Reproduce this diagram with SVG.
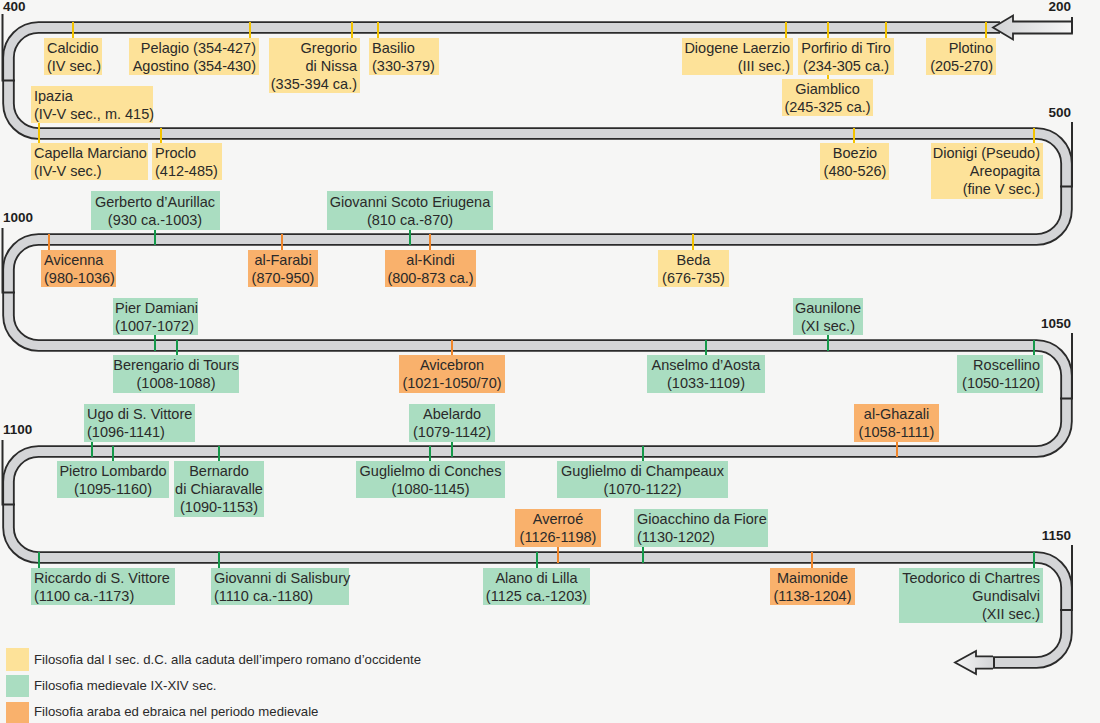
<svg xmlns="http://www.w3.org/2000/svg" width="1100" height="723" viewBox="0 0 1100 723">
<defs>
<style>
.t{font-family:"Liberation Sans",Arial,sans-serif;font-size:14.5px;fill:#2a2a2a}
.yr{font-family:"Liberation Sans",Arial,sans-serif;font-size:13.5px;font-weight:bold;fill:#1e1e1e}
.lg{font-family:"Liberation Sans",Arial,sans-serif;font-size:13.2px;fill:#2a2a2a}
.m{text-anchor:middle}.e{text-anchor:end}
.y{fill:#fde299}.g{fill:#aaddc1}.o{fill:#f9b16c}
.ty{stroke:#f3c300;stroke-width:2}.tg{stroke:#14994a;stroke-width:2}.to{stroke:#f0862a;stroke-width:2}
.mk{stroke:#2b2b2b;stroke-width:2;fill:none}
</style>
<linearGradient id="ga1" x1="993" y1="0" x2="1072" y2="0" gradientUnits="userSpaceOnUse"><stop offset="0" stop-color="#d2d3d5"/><stop offset="1" stop-color="#f6f6f6"/></linearGradient>
<linearGradient id="ga2" x1="955" y1="0" x2="992" y2="0" gradientUnits="userSpaceOnUse"><stop offset="0" stop-color="#f6f6f6"/><stop offset="1" stop-color="#d4d5d7"/></linearGradient>
</defs>
<rect width="1100" height="723" fill="#f6f6f5"/>
<g id="track">
<path d="M 1000 27.5 H 38.5 A 30 30 0 0 0 8.5 57.5 V 103.5 A 30 30 0 0 0 38.5 133.5 H 1036.5 A 30 30 0 0 1 1066.5 163.5 V 209.5 A 30 30 0 0 1 1036.5 239.5 H 38.5 A 30 30 0 0 0 8.5 269.5 V 315.5 A 30 30 0 0 0 38.5 345.5 H 1036.5 A 30 30 0 0 1 1066.5 375.5 V 421.5 A 30 30 0 0 1 1036.5 451.5 H 38.5 A 30 30 0 0 0 8.5 481.5 V 527.5 A 30 30 0 0 0 38.5 557.5 H 1036.5 A 30 30 0 0 1 1066.5 587.5 V 632.5 A 30 30 0 0 1 1036.5 662.5 H 990" fill="none" stroke="#2b2b2b" stroke-width="12.5"/>
<path d="M 1000 27.5 H 38.5 A 30 30 0 0 0 8.5 57.5 V 103.5 A 30 30 0 0 0 38.5 133.5 H 1036.5 A 30 30 0 0 1 1066.5 163.5 V 209.5 A 30 30 0 0 1 1036.5 239.5 H 38.5 A 30 30 0 0 0 8.5 269.5 V 315.5 A 30 30 0 0 0 38.5 345.5 H 1036.5 A 30 30 0 0 1 1066.5 375.5 V 421.5 A 30 30 0 0 1 1036.5 451.5 H 38.5 A 30 30 0 0 0 8.5 481.5 V 527.5 A 30 30 0 0 0 38.5 557.5 H 1036.5 A 30 30 0 0 1 1066.5 587.5 V 632.5 A 30 30 0 0 1 1036.5 662.5 H 995" fill="none" stroke="#d4d5d7" stroke-width="8.8"/>
<polygon points="993,27.5 1013,15.5 1013,21.5 1072,21.5 1072,33.5 1013,33.5 1013,39.5" fill="url(#ga1)" stroke="#2b2b2b" stroke-width="1.8" stroke-linejoin="miter"/>
<polygon points="955,662.5 976,651 976,656.3 993,656.3 993,668.7 976,668.7 976,674" fill="url(#ga2)"/>
<path d="M 993 656.3 H 976 V 651 L 955 662.5 L 976 674 V 668.7 H 993" fill="none" stroke="#2b2b2b" stroke-width="1.8"/>
<path class="mk" d="M 2.5 14 V 80.5 H 15 M 2.5 228 V 292.5 H 15 M 2.5 440 V 504.5 H 15 M 1072 17 V 33 M 1072 122 V 186.5 H 1060 M 1072 333 V 398.5 H 1060 M 1072 545 V 610 H 1060"/>
<text class="yr e" x="1071" y="11">200</text>
<text class="yr" x="3" y="11">400</text>
<text class="yr e" x="1071" y="117">500</text>
<text class="yr" x="3" y="222">1000</text>
<text class="yr e" x="1071" y="328">1050</text>
<text class="yr" x="3" y="434">1100</text>
<text class="yr e" x="1071" y="540">1150</text>
</g>
<g id="connectors">
<line class="ty" x1="73" y1="22" x2="73" y2="38"/>
<line class="ty" x1="250" y1="22" x2="250" y2="38"/>
<line class="ty" x1="352" y1="22" x2="352" y2="38"/>
<line class="ty" x1="378" y1="22" x2="378" y2="38"/>
<line class="ty" x1="786" y1="22" x2="786" y2="38"/>
<line class="ty" x1="828" y1="22" x2="828" y2="79"/>
<line class="ty" x1="886" y1="22" x2="886" y2="38"/>
<line class="ty" x1="986" y1="22" x2="986" y2="38"/>
<line class="ty" x1="39" y1="122" x2="39" y2="143"/>
<line class="ty" x1="161" y1="128" x2="161" y2="143"/>
<line class="ty" x1="854" y1="128" x2="854" y2="143"/>
<line class="ty" x1="1034" y1="128" x2="1034" y2="143"/>
<line class="tg" x1="155" y1="230" x2="155" y2="245"/>
<line class="tg" x1="410" y1="230" x2="410" y2="245"/>
<line class="to" x1="49" y1="234" x2="49" y2="250"/>
<line class="to" x1="282" y1="234" x2="282" y2="250"/>
<line class="to" x1="430" y1="234" x2="430" y2="250"/>
<line class="ty" x1="693" y1="234" x2="693" y2="250"/>
<line class="tg" x1="155" y1="335" x2="155" y2="351"/>
<line class="tg" x1="828" y1="335" x2="828" y2="351"/>
<line class="tg" x1="177" y1="340" x2="177" y2="355"/>
<line class="to" x1="452" y1="340" x2="452" y2="355"/>
<line class="tg" x1="706" y1="340" x2="706" y2="355"/>
<line class="tg" x1="1034" y1="340" x2="1034" y2="355"/>
<line class="tg" x1="92" y1="442" x2="92" y2="457"/>
<line class="tg" x1="452" y1="442" x2="452" y2="457"/>
<line class="to" x1="897" y1="442" x2="897" y2="457"/>
<line class="tg" x1="113" y1="446" x2="113" y2="461"/>
<line class="tg" x1="219" y1="446" x2="219" y2="461"/>
<line class="tg" x1="430" y1="446" x2="430" y2="461"/>
<line class="tg" x1="643" y1="446" x2="643" y2="461"/>
<line class="to" x1="558" y1="547" x2="558" y2="563"/>
<line class="tg" x1="643" y1="547" x2="643" y2="563"/>
<line class="tg" x1="39" y1="552" x2="39" y2="568"/>
<line class="tg" x1="219" y1="552" x2="219" y2="568"/>
<line class="tg" x1="537" y1="552" x2="537" y2="568"/>
<line class="to" x1="812" y1="552" x2="812" y2="568"/>
<line class="tg" x1="1034" y1="552" x2="1034" y2="568"/>
</g>
<g id="calcidio"><rect class="y" x="44" y="38" width="58" height="37"/><text class="t" x="47" y="52.5">Calcidio</text><text class="t" x="47" y="70.5">(IV sec.)</text></g>
<g id="pelagio-agostino"><rect class="y" x="129" y="38" width="130" height="37"/><text class="t e" x="256" y="52.5">Pelagio (354-427)</text><text class="t e" x="256" y="70.5">Agostino (354-430)</text></g>
<g id="gregorio"><rect class="y" x="269" y="38" width="91" height="55"/><text class="t e" x="357" y="52.5">Gregorio</text><text class="t e" x="357" y="70.5">di Nissa</text><text class="t e" x="357" y="88.5">(335-394 ca.)</text></g>
<g id="basilio"><rect class="y" x="369" y="38" width="70" height="37"/><text class="t" x="372" y="52.5">Basilio</text><text class="t" x="372" y="70.5">(330-379)</text></g>
<g id="diogene"><rect class="y" x="682" y="38" width="111" height="37"/><text class="t e" x="790" y="52.5">Diogene Laerzio</text><text class="t e" x="790" y="70.5">(III sec.)</text></g>
<g id="porfirio"><rect class="y" x="798" y="38" width="96" height="37"/><text class="t m" x="846" y="52.5">Porfirio di Tiro</text><text class="t m" x="846" y="70.5">(234-305 ca.)</text></g>
<g id="giamblico"><rect class="y" x="782" y="79" width="91" height="37"/><text class="t m" x="827.5" y="93.5">Giamblico</text><text class="t m" x="827.5" y="111.5">(245-325 ca.)</text></g>
<g id="plotino"><rect class="y" x="926" y="38" width="70" height="37"/><text class="t e" x="993" y="52.5">Plotino</text><text class="t e" x="993" y="70.5">(205-270)</text></g>
<g id="ipazia"><rect class="y" x="31" y="86" width="122" height="37"/><text class="t" x="34" y="100.5">Ipazia</text><text class="t" x="34" y="118.5">(IV-V sec., m. 415)</text></g>
<g id="capella"><rect class="y" x="31" y="143" width="117" height="37"/><text class="t" x="34" y="157.5">Capella Marciano</text><text class="t" x="34" y="175.5">(IV-V sec.)</text></g>
<g id="proclo"><rect class="y" x="152" y="143" width="70" height="37"/><text class="t" x="155" y="157.5">Proclo</text><text class="t" x="155" y="175.5">(412-485)</text></g>
<g id="boezio"><rect class="y" x="820" y="143" width="69" height="37"/><text class="t m" x="855" y="157.5">Boezio</text><text class="t m" x="855" y="175.5">(480-526)</text></g>
<g id="dionigi"><rect class="y" x="931" y="143" width="112" height="56"/><text class="t e" x="1040" y="157.5">Dionigi (Pseudo)</text><text class="t e" x="1040" y="175.5">Areopagita</text><text class="t e" x="1040" y="193.5">(fine V sec.)</text></g>
<g id="gerberto"><rect class="g" x="91" y="191" width="129" height="39"/><text class="t m" x="155" y="206.5">Gerberto d’Aurillac</text><text class="t m" x="155" y="224.5">(930 ca.-1003)</text></g>
<g id="scoto"><rect class="g" x="327" y="191" width="166" height="39"/><text class="t m" x="410" y="206.5">Giovanni Scoto Eriugena</text><text class="t m" x="410" y="224.5">(810 ca.-870)</text></g>
<g id="avicenna"><rect class="o" x="41" y="250" width="75" height="37"/><text class="t" x="44" y="264.5">Avicenna</text><text class="t" x="44" y="282.5">(980-1036)</text></g>
<g id="farabi"><rect class="o" x="248" y="250" width="70" height="37"/><text class="t m" x="283" y="264.5">al-Farabi</text><text class="t m" x="283" y="282.5">(870-950)</text></g>
<g id="kindi"><rect class="o" x="385" y="250" width="91" height="37"/><text class="t m" x="430.5" y="264.5">al-Kindi</text><text class="t m" x="430.5" y="282.5">(800-873 ca.)</text></g>
<g id="beda"><rect class="y" x="658" y="250" width="71" height="37"/><text class="t m" x="693.5" y="264.5">Beda</text><text class="t m" x="693.5" y="282.5">(676-735)</text></g>
<g id="damiani"><rect class="g" x="113" y="298" width="85" height="37"/><text class="t" x="115" y="312.5">Pier Damiani</text><text class="t" x="115" y="330.5">(1007-1072)</text></g>
<g id="gaunilone"><rect class="g" x="793" y="298" width="70" height="37"/><text class="t m" x="828" y="312.5">Gaunilone</text><text class="t m" x="828" y="330.5">(XI sec.)</text></g>
<g id="berengario"><rect class="g" x="113" y="355" width="126" height="38"/><text class="t m" x="176" y="369.5">Berengario di Tours</text><text class="t m" x="176" y="387.5">(1008-1088)</text></g>
<g id="avicebron"><rect class="o" x="399" y="355" width="106" height="38"/><text class="t m" x="452" y="369.5">Avicebron</text><text class="t m" x="452" y="387.5">(1021-1050/70)</text></g>
<g id="anselmo"><rect class="g" x="647" y="355" width="118" height="38"/><text class="t m" x="706" y="369.5">Anselmo d’Aosta</text><text class="t m" x="706" y="387.5">(1033-1109)</text></g>
<g id="roscellino"><rect class="g" x="957" y="355" width="86" height="38"/><text class="t e" x="1040" y="369.5">Roscellino</text><text class="t e" x="1040" y="387.5">(1050-1120)</text></g>
<g id="ugo"><rect class="g" x="84" y="404" width="111" height="38"/><text class="t" x="87" y="418.5">Ugo di S. Vittore</text><text class="t" x="87" y="436.5">(1096-1141)</text></g>
<g id="abelardo"><rect class="g" x="409" y="404" width="86" height="38"/><text class="t m" x="452" y="418.5">Abelardo</text><text class="t m" x="452" y="436.5">(1079-1142)</text></g>
<g id="ghazali"><rect class="o" x="854" y="404" width="85" height="38"/><text class="t m" x="896.5" y="418.5">al-Ghazali</text><text class="t m" x="896.5" y="436.5">(1058-1111)</text></g>
<g id="lombardo"><rect class="g" x="57" y="461" width="112" height="37"/><text class="t m" x="113" y="475.5">Pietro Lombardo</text><text class="t m" x="113" y="493.5">(1095-1160)</text></g>
<g id="bernardo"><rect class="g" x="174" y="461" width="90" height="56"/><text class="t m" x="219" y="475.5">Bernardo</text><text class="t m" x="219" y="493.5">di Chiaravalle</text><text class="t m" x="219" y="511.5">(1090-1153)</text></g>
<g id="conches"><rect class="g" x="356" y="461" width="149" height="37"/><text class="t m" x="430.5" y="475.5">Guglielmo di Conches</text><text class="t m" x="430.5" y="493.5">(1080-1145)</text></g>
<g id="champeaux"><rect class="g" x="557" y="461" width="171" height="37"/><text class="t m" x="642.5" y="475.5">Guglielmo di Champeaux</text><text class="t m" x="642.5" y="493.5">(1070-1122)</text></g>
<g id="averroe"><rect class="o" x="515" y="509" width="86" height="38"/><text class="t m" x="558" y="523.5">Averroé</text><text class="t m" x="558" y="541.5">(1126-1198)</text></g>
<g id="gioacchino"><rect class="g" x="634" y="509" width="134" height="38"/><text class="t" x="637" y="523.5">Gioacchino da Fiore</text><text class="t" x="637" y="541.5">(1130-1202)</text></g>
<g id="riccardo"><rect class="g" x="31" y="568" width="144" height="37"/><text class="t" x="34" y="582.5">Riccardo di S. Vittore</text><text class="t" x="34" y="600.5">(1100 ca.-1173)</text></g>
<g id="salisbury"><rect class="g" x="211" y="568" width="138" height="37"/><text class="t" x="214" y="582.5">Giovanni di Salisbury</text><text class="t" x="214" y="600.5">(1110 ca.-1180)</text></g>
<g id="alano"><rect class="g" x="483" y="568" width="107" height="37"/><text class="t m" x="536.5" y="582.5">Alano di Lilla</text><text class="t m" x="536.5" y="600.5">(1125 ca.-1203)</text></g>
<g id="maimonide"><rect class="o" x="770" y="568" width="85" height="37"/><text class="t m" x="812.5" y="582.5">Maimonide</text><text class="t m" x="812.5" y="600.5">(1138-1204)</text></g>
<g id="teodorico"><rect class="g" x="899" y="568" width="144" height="55"/><text class="t e" x="1040" y="582.5">Teodorico di Chartres</text><text class="t e" x="1040" y="600.5">Gundisalvi</text><text class="t e" x="1040" y="618.5">(XII sec.)</text></g>
<g id="legend">
<rect class="y" x="6" y="648" width="23" height="23"/><text class="lg" x="34" y="663.5">Filosofia dal I sec. d.C. alla caduta dell’impero romano d’occidente</text>
<rect class="g" x="6" y="675" width="23" height="22"/><text class="lg" x="34" y="689.5">Filosofia medievale IX-XIV sec.</text>
<rect class="o" x="6" y="702" width="23" height="21"/><text class="lg" x="34" y="715.5">Filosofia araba ed ebraica nel periodo medievale</text>
</g>
</svg>
